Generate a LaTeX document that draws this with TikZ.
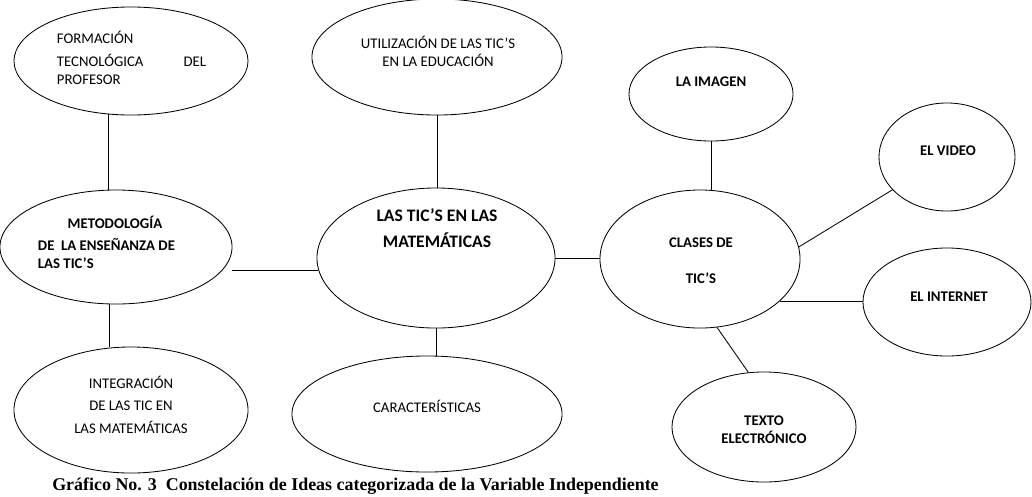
\documentclass[tikz,border=0pt]{standalone}
\usepackage{fontspec}
\setmainfont{Liberation Serif}
\newfontfamily\calibri{Carlito}
\usetikzlibrary{shapes.geometric}

\tikzset{
  idea/.style 2 args={draw, ellipse, inner sep=0pt, line width=0.6pt,
    minimum width=#1*0.05cm, minimum height=#2*0.05cm},
  ideatxt/.style={font=\calibri\fontsize{10.5}{12.8}\selectfont, align=center, inner sep=0pt},
  ideabold/.style={ideatxt, font=\calibri\bfseries\fontsize{10.5}{12.8}\selectfont},
  link/.style={line width=0.6pt},
}

\begin{document}
\begin{tikzpicture}[x=0.025cm,y=-0.025cm]
\path[use as bounding box] (0,0) rectangle (1032,496);
% ellipses
\node[idea={117}{54}] (formacion) at (131,61) {};
\node[idea={125}{58}] (utilizacion) at (437,57) {};
\node[idea={82}{47}] (imagen) at (711,94) {};
\node[idea={68}{54}] (video) at (947,157) {};
\node[idea={116}{57}] (metodo) at (116,247) {};
\node[idea={119}{70}] (tics) at (436,258) {};
\node[idea={100}{69}] (clases) at (700,259) {};
\node[idea={84}{54}] (internet) at (947,302) {};
\node[idea={117}{63}] (integracion) at (131,410) {};
\node[idea={135}{58}] (caract) at (427,414) {};
\node[idea={92}{55}] (texto) at (764,427) {};
% texts
\node[ideatxt, align=left, text width=3.725cm] (formacion-t) at (131.5,58)
  {FORMACIÓN\\[3.5pt]TECNOLÓGICA\hfill DEL\\PROFESOR};
\node[ideatxt] (utilizacion-t) at (438,51) {UTILIZACIÓN DE LAS TIC’S\\EN LA EDUCACIÓN};
\node[ideabold] (imagen-t) at (711,82) {LA IMAGEN};
\node[ideabold] (video-t) at (948,151) {EL VIDEO};
\node[ideabold, align=left] (metodo-t) at (115,242.5)
  {\makebox[3.85cm][c]{METODOLOGÍA}\\[2.8pt]DE\ \ LA ENSEÑANZA DE\\LAS TIC’S};
\node[ideabold, font=\calibri\bfseries\fontsize{12.5}{18.4}\selectfont] (tics-t) at (437,228)
  {LAS TIC’S EN LAS\\MATEMÁTICAS};
\node[ideabold] (clases-t) at (701,261) {CLASES DE\\[12.7pt]TIC’S};
\node[ideabold] (internet-t) at (949,297) {EL INTERNET};
\node[ideatxt, font=\calibri\fontsize{10.5}{16}\selectfont] (integracion-t) at (131,404.5)
  {INTEGRACIÓN\\DE LAS TIC EN\\LAS MATEMÁTICAS};
\node[ideatxt] (caract-t) at (427,406) {CARACTERÍSTICAS};
\node[ideabold] (texto-t) at (764,430) {TEXTO\\ELECTRÓNICO};
% connectors
\draw[link] (formacion.247) -- (formacion.247 |- metodo.north);
\draw[link] (utilizacion.south) -- (utilizacion.south |- tics.north);
\draw[link] (imagen.south) -- (imagen.south |- clases.north);
\draw[link] (metodo.263) -- (metodo.263 |- integracion.north);
\draw[link] (tics.186) -- (tics.186 -| metodo.east);
\draw[link] (tics.east) -- (tics.east -| clases.west);
\draw[link] (tics.south) -- (tics.south |- caract.north);
\draw[link] (clases.7) -- (video.211);
\draw[link] (clases.-28) -- (clases.-28 -| internet.west);
\draw[link] (clases.-76) -- (texto.106);
% caption
\node[anchor=west, inner sep=0pt, font=\bfseries\fontsize{12.75}{15}\selectfont] (caption) at (52,486)
  {Gráfico No. 3\ \ Constelación de Ideas categorizada de la Variable Independiente};
\end{tikzpicture}
\end{document}
